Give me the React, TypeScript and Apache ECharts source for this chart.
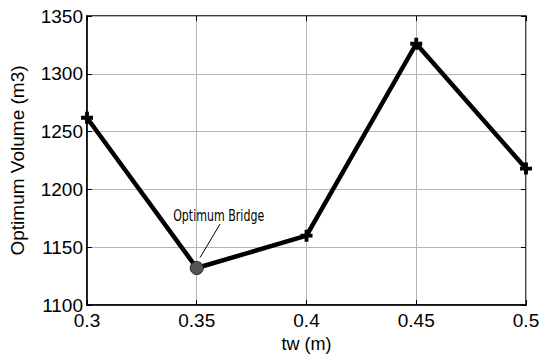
import React, { useEffect, useRef } from "react";
import * as echarts from "echarts";

const tw = [0.3, 0.35, 0.4, 0.45, 0.5];
const volume = [1262, 1132, 1160, 1326, 1218];
const optimumIndex = 1;
const annotationText = "Optimum Bridge";
const annotationPos = [0.36, 1178];
const arrowStart = [0.3606, 1170];
const arrowEnd = [0.3515, 1141];

const PLUS =
  "path://M-1.6,-5 L1.6,-5 L1.6,-1.6 L5,-1.6 L5,1.6 L1.6,1.6 L1.6,5 L-1.6,5 L-1.6,1.6 L-5,1.6 L-5,-1.6 L-1.6,-1.6 Z";

export default function App() {
  const ref = useRef<HTMLDivElement>(null);
  useEffect(() => {
    if (!ref.current) return;
    const chart = echarts.init(ref.current, undefined, { renderer: "svg" });
    const font = "Liberation Sans, Arial, sans-serif";
    const data = tw.map((x, i) =>
      i === optimumIndex
        ? {
            value: [x, volume[i]],
            symbol: "circle",
            symbolSize: 13,
            itemStyle: { color: "#555555", borderColor: "#222", borderWidth: 1 },
          }
        : { value: [x, volume[i]] }
    );
    const hiddenAxisCommon = {
      axisLine: { show: false },
      axisLabel: { show: false },
      splitLine: { show: false },
      axisTick: { show: true, inside: true, length: 5, lineStyle: { color: "#000" } },
    };
    chart.setOption({
      animation: false,
      backgroundColor: "#fff",
      grid: {
        left: 87,
        right: 15,
        top: 16,
        bottom: 51,
        show: true,
        borderColor: "#000",
        borderWidth: 1.5,
        backgroundColor: "#fff",
        containLabel: false,
        outerBoundsMode: "none",
      },
      xAxis: [
        {
          type: "value",
          min: 0.3,
          max: 0.5,
          interval: 0.05,
          name: "tw (m)",
          nameLocation: "middle",
          nameGap: 29,
          nameTextStyle: { fontFamily: font, fontSize: 18, color: "#000" },
          axisLine: { show: true, lineStyle: { color: "#000", width: 1.5 } },
          axisTick: { show: true, inside: true, length: 5, lineStyle: { color: "#000" } },
          axisLabel: { fontFamily: font, fontSize: 19, color: "#000", margin: 6, formatter: (v: number) => String(+v.toFixed(2)) },
          splitLine: { show: true, lineStyle: { color: "#b5b5b5", width: 1 } },
        },
        { type: "value", position: "top", min: 0.3, max: 0.5, interval: 0.05, ...hiddenAxisCommon },
      ],
      yAxis: [
        {
          type: "value",
          min: 1100,
          max: 1350,
          interval: 50,
          name: "Optimum Volume (m3)",
          nameLocation: "middle",
          nameGap: 60,
          nameTextStyle: { fontFamily: font, fontSize: 19, color: "#000" },
          axisLine: { show: true, lineStyle: { color: "#000", width: 1.5 } },
          axisTick: { show: true, inside: true, length: 5, lineStyle: { color: "#000" } },
          axisLabel: { fontFamily: font, fontSize: 19, color: "#000", margin: 4, formatter: (v: number) => String(v) },
          splitLine: { show: true, lineStyle: { color: "#b5b5b5", width: 1 } },
        },
        { type: "value", position: "right", min: 1100, max: 1350, interval: 50, ...hiddenAxisCommon },
      ],
      series: [
        {
          type: "line",
          data,
          symbol: PLUS,
          symbolSize: 12,
          showAllSymbol: true,
          lineStyle: { color: "#000", width: 4.5 },
          itemStyle: { color: "#000" },
          z: 3,
          markLine: {
            silent: true,
            symbol: ["none", "arrow"],
            symbolSize: [0, 9],
            label: { show: false },
            lineStyle: { color: "#000", width: 1, type: "solid" },
            data: [[{ coord: arrowStart }, { coord: arrowEnd }]],
          },
        },
      ],
    });
    const p = chart.convertToPixel({ xAxisIndex: 0, yAxisIndex: 0 }, annotationPos) as number[];
    chart.setOption({
      graphic: [
        {
          type: "text",
          x: p[0],
          y: p[1],
          scaleX: 0.69,
          z: 10,
          style: {
            text: annotationText,
            fontFamily: "DejaVu Sans, sans-serif",
            fontSize: 16,
            fill: "#000",
            textAlign: "center",
            textVerticalAlign: "middle",
          },
        },
      ],
    });
    return () => chart.dispose();
  }, []);
  return (
    <div
      ref={ref}
      style={{ position: "absolute", left: 0, top: 0, width: 541, height: 356 }}
    />
  );
}
